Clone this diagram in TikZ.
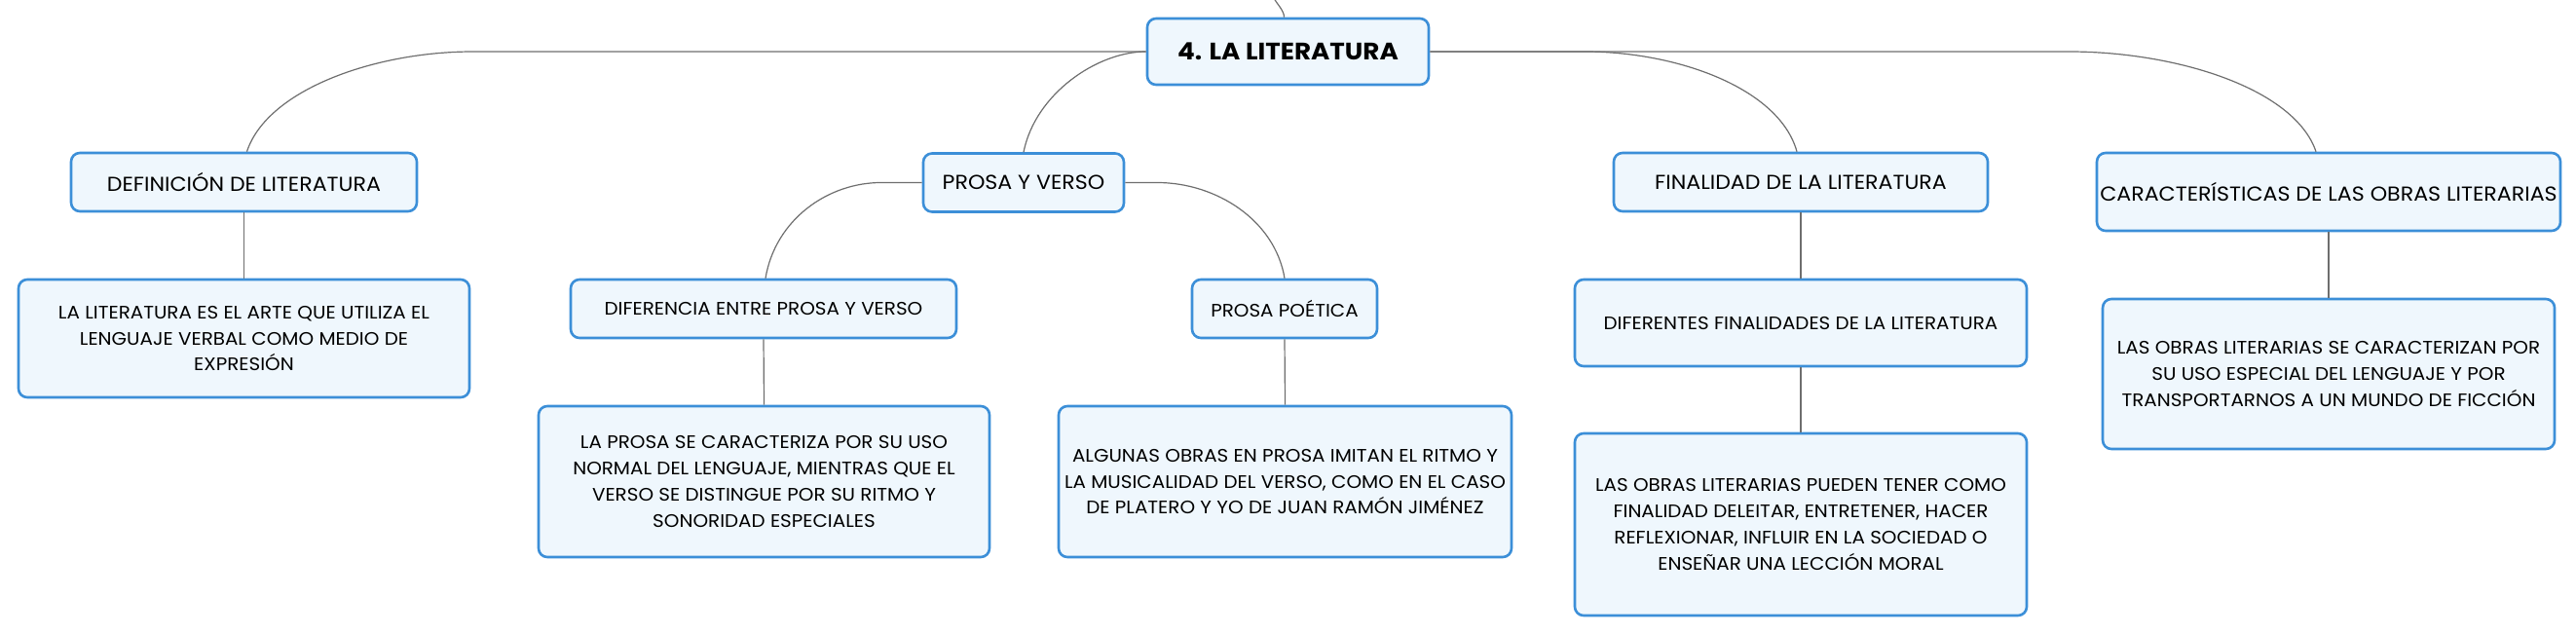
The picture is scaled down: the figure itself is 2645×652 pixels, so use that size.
\documentclass[tikz,border=0pt]{standalone}
\usepackage{fontspec}
\setmainfont{Poppins}[FakeStretch=1.07]
\definecolor{boxline}{HTML}{3C8FD8}
\definecolor{boxfill}{HTML}{EFF7FD}
\definecolor{connline}{HTML}{6E6E6E}
\begin{document}
\begin{tikzpicture}[x=1pt,y=-1pt,
  box/.style={draw=boxline,fill=boxfill,line width=2.6pt,rounded corners=9pt,
    inner sep=0pt,align=center,text=black},
  rootbox/.style={box,font=\fontsize{24.5}{30}\selectfont\bfseries},
  lvla/.style={box,font=\fontsize{20.7}{27}\selectfont},
  lvlb/.style={box,font=\fontsize{18.6}{26.7}\selectfont},
  conn/.style={draw=connline,line width=1.2pt}]
\useasboundingbox (0,0) rectangle (2645,652);
% nodes
\node[rootbox,minimum width=289pt,minimum height=68pt] (root) at (1322.5,53) {4. LA LITERATURA};
\node[lvla,minimum width=355pt,minimum height=60pt] (def) at (250.5,187) {DEFINICIÓN DE LITERATURA};
\node[lvla,minimum width=206pt,minimum height=60pt] (prosa) at (1051,187.5) {PROSA Y VERSO};
\node[lvla,minimum width=384pt,minimum height=60pt] (final) at (1849,187) {FINALIDAD DE LA LITERATURA};
\node[lvla,minimum width=476pt,minimum height=80pt] (carac) at (2391,197) {CARACTERÍSTICAS DE LAS OBRAS LITERARIAS};
\node[lvlb,minimum width=463pt,minimum height=121pt] (deftext) at (250.5,347.5) {LA LITERATURA ES EL ARTE QUE UTILIZA EL\\LENGUAJE VERBAL COMO MEDIO DE\\EXPRESIÓN};
\node[lvlb,minimum width=396pt,minimum height=60pt] (difer) at (784,317) {DIFERENCIA ENTRE PROSA Y VERSO};
\node[lvlb,minimum width=190pt,minimum height=60pt] (poet) at (1319,317) {PROSA POÉTICA};
\node[lvlb,minimum width=463pt,minimum height=155pt] (prosatext) at (784.5,494.5) {LA PROSA SE CARACTERIZA POR SU USO\\NORMAL DEL LENGUAJE, MIENTRAS QUE EL\\VERSO SE DISTINGUE POR SU RITMO Y\\SONORIDAD ESPECIALES};
\node[lvlb,minimum width=465pt,minimum height=155pt] (poettext) at (1319.5,494.5) {ALGUNAS OBRAS EN PROSA IMITAN EL RITMO Y\\LA MUSICALIDAD DEL VERSO, COMO EN EL CASO\\DE PLATERO Y YO DE JUAN RAMÓN JIMÉNEZ};
\node[lvlb,minimum width=464pt,minimum height=89pt] (difin) at (1849,331.5) {DIFERENTES FINALIDADES DE LA LITERATURA};
\node[lvlb,minimum width=464pt,minimum height=187pt] (fintext) at (1849,538.5) {LAS OBRAS LITERARIAS PUEDEN TENER COMO\\FINALIDAD DELEITAR, ENTRETENER, HACER\\REFLEXIONAR, INFLUIR EN LA SOCIEDAD O\\ENSEÑAR UNA LECCIÓN MORAL};
\node[lvlb,minimum width=464pt,minimum height=154pt] (caractext) at (2391,384) {LAS OBRAS LITERARIAS SE CARACTERIZAN POR\\SU USO ESPECIAL DEL LENGUAJE Y POR\\TRANSPORTARNOS A UN MUNDO DE FICCIÓN};
\coordinate (topend) at (1308,-2);
% connectors
\draw[conn] ([xshift=-4pt]root.north) .. controls +(0,-7) and +(3,6) .. (topend);
\draw[conn] (root.west) -- ([xshift=-691pt]root.west) .. controls +(-100,0) and +(21,-64) .. ([xshift=3pt]def.north);
\draw[conn] (root.west) .. controls +(-50,0) and +(12,-60) .. (prosa.north);
\draw[conn] (root.east) -- ([xshift=159pt]root.east) .. controls +(95,0) and +(-18,-65) .. ([xshift=-4pt]final.north);
\draw[conn] (root.east) -- ([xshift=656pt]root.east) .. controls +(110,0) and +(-22,-65) .. ([xshift=-13pt]carac.north);
\draw[conn] (prosa.west) -- ([xshift=-42pt]prosa.west) .. controls +(-55,0) and +(10,-60) .. ([xshift=2pt]difer.north);
\draw[conn] (prosa.east) -- ([xshift=33pt]prosa.east) .. controls +(60,0) and +(-10,-60) .. (poet.north);
\draw[conn] (def.south) -- (deftext.north);
\draw[conn] (difer.south) -- (prosatext.north);
\draw[conn] (poet.south) -- (poettext.north);
\draw[conn] (final.south) -- (difin.north);
\draw[conn] (difin.south) -- (fintext.north);
\draw[conn] (carac.south) -- (caractext.north);
\end{tikzpicture}
\end{document}
